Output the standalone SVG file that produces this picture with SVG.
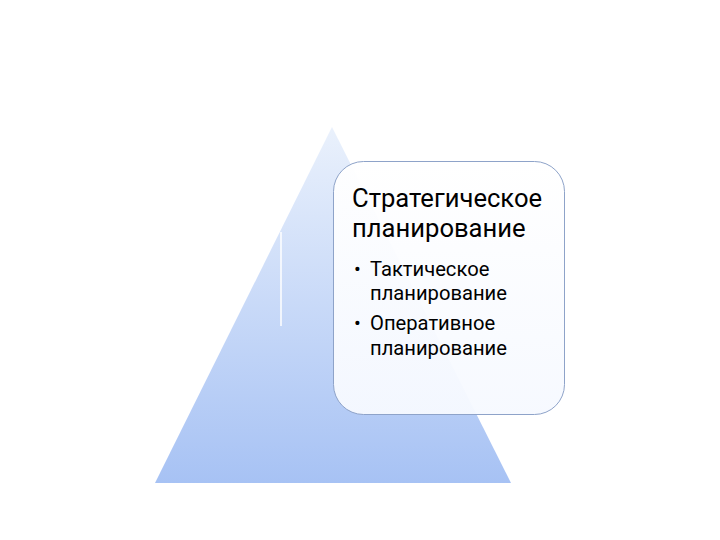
<svg xmlns="http://www.w3.org/2000/svg" width="720" height="540" viewBox="0 0 720 540">
<defs>
<linearGradient id="tri" x1="0" y1="0" x2="0" y2="1">
<stop offset="0" stop-color="#eaf1fc"/>
<stop offset="1" stop-color="#a7c2f4"/>
</linearGradient>
<linearGradient id="box" x1="0" y1="0" x2="0" y2="1">
<stop offset="0" stop-color="#ffffff" stop-opacity="0.96"/>
<stop offset="1" stop-color="#f6f9ff" stop-opacity="0.96"/>
</linearGradient>
<style>
.t{font-family:Roboto,"Noto Sans","Liberation Sans",sans-serif;fill:#000}
.h{font-size:25.6px}
.b{font-size:20.2px}
</style>
</defs>
<rect width="720" height="540" fill="#ffffff"/>
<g id="pyramid">
<polygon points="332,127 511,483 155,483" fill="url(#tri)"/>
<line x1="281" y1="232" x2="281" y2="326" stroke="#ffffff" stroke-width="1.5"/>
</g>
<g id="connectors"></g>
<g id="textbox">
<rect x="333.5" y="161.5" width="231" height="253" rx="30" ry="30" fill="url(#box)" stroke="#8ea3c9" stroke-width="1"/>
<text class="t h" x="352" y="207">Стратегическое</text>
<text class="t h" x="352" y="237">планирование</text>
<text class="t b" x="354" y="276">•</text>
<text class="t b" x="370" y="276">Тактическое</text>
<text class="t b" x="370" y="300">планирование</text>
<text class="t b" x="354" y="330">•</text>
<text class="t b" x="370" y="330">Оперативное</text>
<text class="t b" x="370" y="355">планирование</text>
</g>
</svg>
